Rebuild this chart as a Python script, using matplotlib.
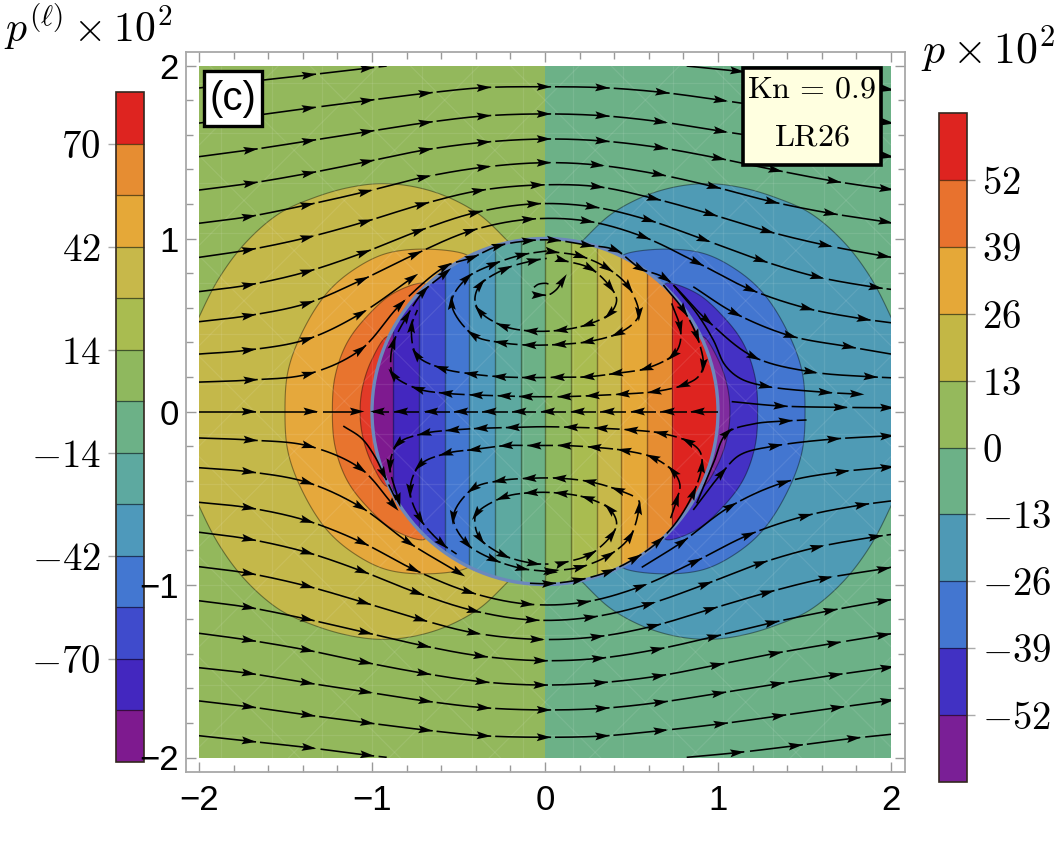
import numpy as np
import matplotlib
matplotlib.use("Agg")
import matplotlib.pyplot as plt
from matplotlib.colors import BoundaryNorm, ListedColormap
from matplotlib.cm import ScalarMappable
from matplotlib.collections import LineCollection, PolyCollection
from matplotlib.patches import Circle, Polygon, Rectangle
from matplotlib.ticker import MultipleLocator

plt.rcParams["font.family"] = ["Liberation Sans", "DejaVu Sans"]
plt.rcParams["mathtext.fontset"] = "cm"

W, H = 1064, 867

# ── Colour bands ──────────────────────────────────────────────────────
LEFT_COLORS = ["#7E1A8F", "#4327BF", "#3F4BCC", "#4377D1", "#4E99BB", "#5DA9A0", "#6CB187",
               "#8FB85E", "#A9BC50", "#C7B84A", "#E5A838", "#E68D32", "#DE2420"]
LEFT_LEVELS = [-98, -84, -70, -56, -42, -28, -14, 0, 14, 28, 42, 56, 70, 84]
LEFT_TICKS = [-70, -42, -14, 14, 42, 70]

RIGHT_COLORS = ["#7A1F96", "#4131C3", "#4376D0", "#4E99B5", "#6CB187",
                "#95B95C", "#C3B745", "#E5A838", "#E8722E", "#DE2420"]
RIGHT_LEVELS = [-65, -52, -39, -26, -13, 0, 13, 26, 39, 52, 65]
RIGHT_TICKS = [-52, -39, -26, -13, 0, 13, 26, 39, 52]

# ── Contours outside the cylinder (upper half, left side; others mirror) ──
OUT_1 = [(-.18, .95), (-.221, .991), (-.376, 1.136), (-.568, 1.242), (-.762, 1.30), (-.954, 1.317),
         (-1.146, 1.292), (-1.34, 1.234), (-1.532, 1.147), (-1.725, .982), (-1.879, .779), (-1.994, .558),
         (-2.1, .30)]
OUT_2 = [(-.42, .87), (-.453, .905), (-.665, .938), (-.915, .914), (-1.108, .818), (-1.262, .683),
         (-1.397, .471), (-1.484, .24), (-1.503, 0)]
OUT_3 = [(-.67, .71), (-.703, .741), (-.877, .683), (-1.031, .548), (-1.146, .394), (-1.214, .20), (-1.229, 0)]
OUT_4 = [(-.88, .42), (-.915, .432), (-1.002, .298), (-1.054, .144), (-1.069, 0)]
LEFT_OUT_COLORS = ["#C4B84A", "#E5A83C", "#E8742E", "#E23A28"]
RIGHT_OUT_COLORS = ["#4F9BB5", "#4376D0", "#4431C4", "#7F2B9E"]
OUT_BACK_LEFT = "#93B85C"
OUT_BACK_RIGHT = "#6CB187"

# ── Strips inside the cylinder ────────────────────────────────────────
IN_EDGES = [-1.02, -.877, -.728, -.578, -.438, -.289, -.14, 0, .15, .30, .44, .59, .736, 1.02]

# ── Streamlines: (x, y) carries an arrow head, (x, y, 0) only shapes the line ──
UPPER = [
    [(-2, 1.87, 0), (-1.628, 1.916, 0), (-1.368, 1.945), (-1.031, 1.984), (-.915, 1.997, 0)],
    [(.819, 1.997, 0), (1.108, 1.968), (1.45, 1.93, 0), (1.78, 1.89, 0), (1.975, 1.864), (2, 1.86, 0)],
    [(-2, 1.667, 0), (-1.628, 1.718, 0), (-1.368, 1.753), (-1.031, 1.797), (-.694, 1.839), (-.357, 1.872),
     (-.01, 1.877), (.328, 1.872), (.675, 1.845), (1.012, 1.80), (1.36, 1.75, 0), (1.7, 1.70, 0),
     (1.975, 1.671), (2, 1.667, 0)],
    [(-2, 1.473, 0), (-1.705, 1.512), (-1.368, 1.564), (-1.031, 1.617), (-.694, 1.669), (-.357, 1.708),
     (-.01, 1.72), (.328, 1.71), (.665, 1.675), (1.012, 1.621), (1.36, 1.57, 0), (1.7, 1.52, 0),
     (1.975, 1.477), (2, 1.473, 0)],
    [(-2, 1.28, 0), (-1.705, 1.319), (-1.368, 1.377), (-1.031, 1.444), (-.694, 1.512), (-.357, 1.556),
     (-.01, 1.575), (.328, 1.564), (.665, 1.525), (1.002, 1.464), (1.329, 1.396), (1.667, 1.332),
     (1.97, 1.287), (2, 1.284, 0)],
    [(-2, 1.088, 0), (-1.715, 1.126), (-1.377, 1.194), (-1.04, 1.27), (-.703, 1.354), (-.357, 1.412),
     (-.01, 1.438), (.299, 1.425), (.655, 1.371), (.973, 1.30), (1.31, 1.213), (1.647, 1.146),
     (1.965, 1.097), (2, 1.09, 0)],
    [(-2, .891, 0), (-1.715, .934), (-1.377, 1.005), (-1.04, 1.097), (-.713, 1.197), (-.386, 1.276),
     (-.048, 1.309), (.299, 1.30), (.626, 1.232), (.954, 1.142), (1.282, 1.043), (1.618, .962),
     (1.955, .899), (2, .892, 0)],
    [(-2, .693, 0), (-1.715, .731), (-1.377, .808), (-1.05, .918), (-.732, 1.043), (-.405, 1.149),
     (-.068, 1.2), (.27, 1.184), (.597, 1.107), (.915, .995), (1.243, .876), (1.57, .779),
     (1.908, .718), (2, .706, 0)],
    [(-2, .519, 0), (-1.715, .554), (-1.377, .625), (-1.06, .76), (-.751, .909), (-.434, 1.043),
     (-.097, 1.111), (.241, 1.101), (.568, 1.01), (.877, .862), (1.185, .706), (1.512, .597),
     (1.84, .535), (2, .513, 0)],
    [(-2, .332, 0), (-1.715, .355), (-1.377, .417), (-1.069, .564), (-.771, .77)],
    [(.857, .721, 0), (1.098, .568), (1.416, .438), (1.753, .375), (2, .332, 0)],
    [(-2, .17, 0), (-1.705, .182), (-1.368, .217), (-1.069, .355), (-.838, .616), (-.578, .837),
     (-.424, .889), (-.27, .957), (-.097, .987), (.048, .991), (.241, .962), (.405, .934), (.549, .828),
     (.694, .77), (.935, .529), (1.204, .317), (1.532, .23), (1.879, .201), (2, .195, 0)],
    [(.742, .731, 0), (.877, .568, 0), (.973, .413, 0), (1.04, .269, 0), (1.127, .192, 0), (1.272, .147),
     (1.618, .111), (1.80, .101)],
    [(-2, 0, 0), (-1.715, 0), (-1.358, 0), (-1.09, 0)],
    [(1.079, .057, 0), (1.358, .032), (1.705, .024), (1.975, .022), (2, .022, 0)],
]
LOWER = [
    [(-2, -.153, 0), (-1.705, -.165), (-1.368, -.199), (-1.069, -.328), (-.877, -.54)],
    [(-2, -.325, 0), (-1.715, -.348), (-1.377, -.409), (-1.069, -.55), (-.79, -.756), (-.501, -.93)],
    [(-2, -.525, 0), (-1.715, -.556), (-1.377, -.631), (-1.06, -.756), (-.761, -.912), (-.443, -1.042),
     (-.106, -1.113), (.221, -1.103), (.549, -1.013), (.867, -.868), (1.175, -.714), (1.503, -.604),
     (1.83, -.54), (2, -.517, 0)],
    [(-2, -.698, 0), (-1.715, -.737), (-1.377, -.814), (-1.06, -.922), (-.742, -1.047), (-.414, -1.151),
     (-.077, -1.205), (.26, -1.19), (.597, -1.114), (.925, -.999), (1.243, -.878), (1.57, -.785),
     (1.908, -.724), (2, -.711, 0)],
    [(-2, -.897, 0), (-1.715, -.935), (-1.377, -1.009), (-1.05, -1.103), (-.723, -1.201), (-.414, -1.279),
     (-.048, -1.317), (.299, -1.302), (.626, -1.24), (.954, -1.143), (1.282, -1.047), (1.618, -.964),
     (1.955, -.91), (2, -.9, 0)],
    [(-2, -1.094, 0), (-1.715, -1.132), (-1.377, -1.2), (-1.04, -1.277), (-.703, -1.354), (-.376, -1.413),
     (-.029, -1.44), (.308, -1.427), (.646, -1.375), (.973, -1.302), (1.31, -1.221), (1.647, -1.151),
     (1.955, -1.095), (2, -1.088, 0)],
    [(-2, -1.282, 0), (-1.715, -1.321), (-1.377, -1.379), (-1.04, -1.45), (-.703, -1.513), (-.366, -1.562),
     (-.029, -1.581), (.318, -1.568), (.655, -1.529), (.992, -1.465), (1.329, -1.398), (1.667, -1.34),
     (1.955, -1.292), (2, -1.285, 0)],
    [(-2, -1.481, 0), (-1.715, -1.513), (-1.377, -1.568), (-1.04, -1.62), (-.694, -1.673), (-.357, -1.712),
     (-.01, -1.725), (.328, -1.716), (.665, -1.681), (1.002, -1.629), (1.339, -1.575), (1.676, -1.523),
     (1.975, -1.481), (2, -1.477, 0)],
    [(-2, -1.673, 0), (-1.715, -1.706), (-1.374, -1.754), (-1.031, -1.799), (-.694, -1.841), (-.357, -1.874),
     (-.01, -1.883), (.328, -1.876), (.665, -1.845), (1.012, -1.806), (1.349, -1.76), (1.686, -1.712),
     (1.975, -1.673), (2, -1.669, 0)],
    [(-2, -1.874, 0), (-1.715, -1.905), (-1.368, -1.943), (-1.031, -1.986), (-.915, -1.999, 0)],
    [(.819, -1.999, 0), (1.108, -1.972), (1.445, -1.932), (1.782, -1.889), (2, -1.866, 0)],
    [(.559, -.901, 0), (.79, -.756), (1.069, -.55), (1.378, -.411), (1.715, -.348), (1.975, -.323), (2, -.32, 0)],
    [(.857, -.569, 0), (1.021, -.357), (1.127, -.251, 0), (1.329, -.199), (1.667, -.159), (1.975, -.142), (2, -.14, 0)],
    [(.877, -.531, 0), (.973, -.3, 0), (1.05, -.126), (1.204, -.072, 0), (1.387, -.055), (1.512, -.049, 0)],
]
INNER = [
    [(1.002, 0, 0), (.886, 0), (.713, 0), (.54, 0), (.366, 0), (.193, 0), (.02, 0), (-.145, 0), (-.318, 0),
     (-.482, 0), (-.655, 0), (-.829, 0), (-.964, 0), (-.992, 0, 0)],
    # upper half
    [(.684, .731, 0), (.80, .587), (.877, .438), (.915, .269), (.886, .201, 0), (.80, .153), (.636, .115),
     (.453, .101), (.279, .092), (.116, .086), (-.106, .086), (-.231, .09), (-.395, .095), (-.569, .105),
     (-.732, .13), (-.877, .211), (-.892, .278, 0), (-.877, .394), (-.80, .548), (-.703, .693), (-.578, .799)],
    [(.732, .625, 0), (.78, .49), (.78, .394, 0), (.742, .327), (.588, .25), (.414, .221), (.25, .201),
     (.077, .198), (-.087, .196), (-.26, .201), (-.424, .217), (-.597, .25), (-.742, .327), (-.771, .49),
     (-.738, .587, 0)],
    [(.039, .924), (.202, .899), (.356, .831), (.482, .722), (.543, .567), (.52, .519, 0), (.424, .452),
     (.25, .404), (.087, .388), (-.087, .384), (-.251, .398), (-.414, .442), (-.54, .625), (-.453, .77),
     (-.299, .851), (-.135, .905), (.01, .928, 0)],
    [(.096, .876), (.26, .828), (.376, .722), (.414, .645, 0), (.376, .567), (.25, .504), (.096, .471),
     (-.077, .465), (-.241, .494), (-.376, .577), (-.405, .645, 0), (-.376, .731), (-.231, .824),
     (-.068, .872), (.01, .885, 0)],
    [(-.064, .718, 0), (-.039, .735, 0), (.004, .741, 0), (.02, .737, 0)],
    [(-.04, .673), (-.01, .673, 0), (.019, .673, 0), (.067, .706, 0), (.10, .755)],
    # lower half
    [(-.087, -.993, 0), (.02, -.995), (.193, -.974), (.366, -.926), (.52, -.849), (.655, -.752), (.761, -.637, 0),
     (.857, -.473), (.906, -.319), (.896, -.232, 0), (.828, -.174), (.674, -.126), (.501, -.107), (.327, -.097),
     (.154, -.091), (-.01, -.088, 0), (-.183, -.092), (-.366, -.097), (-.53, -.107), (-.694, -.126),
     (-.848, -.184), (-.896, -.309), (-.848, -.508)],
    [(.726, -.617, 0), (.761, -.512), (.78, -.425, 0), (.742, -.348), (.626, -.267), (.462, -.226),
     (.289, -.207), (.116, -.197), (-.058, -.197), (-.222, -.197), (-.405, -.219), (-.569, -.242),
     (-.723, -.309), (-.78, -.454), (-.723, -.618), (-.597, -.762), (-.511, -.824, 0)],
    [(.039, -.922), (.202, -.9), (.366, -.833), (.491, -.724), (.543, -.56), (.54, -.512, 0), (.424, -.454),
     (.26, -.406), (.087, -.386), (-.087, -.386), (-.26, -.4), (-.414, -.444), (-.53, -.608), (-.453, -.762),
     (-.299, -.855), (-.135, -.907), (.029, -.926)],
    [(.096, -.878), (.26, -.826), (.385, -.714), (.414, -.646, 0), (.376, -.566), (.25, -.502), (.096, -.473),
     (-.077, -.469), (-.241, -.496), (-.395, -.589), (-.405, -.647, 0), (-.376, -.733), (-.241, -.83),
     (-.068, -.878), (.02, -.882, 0)],
    [(-1.166, -.084, 0), (-1.06, -.155, 0), (-.983, -.261, 0), (-.935, -.358), (-.86, -.512, 0)],
]


def box(left, top, right, bottom):
    return [left / W, 1 - bottom / H, (right - left) / W, (bottom - top) / H]


def smooth(pts, n=30):
    # centripetal Catmull-Rom through the read points
    P = np.asarray(pts, dtype=float)
    P = np.vstack([2 * P[0] - P[1], P, 2 * P[-1] - P[-2]])
    out = []
    for i in range(len(P) - 3):
        p0, p1, p2, p3 = P[i:i + 4]
        t0 = 0.0
        t1 = t0 + max(np.linalg.norm(p1 - p0), 1e-6) ** .5
        t2 = t1 + max(np.linalg.norm(p2 - p1), 1e-6) ** .5
        t3 = t2 + max(np.linalg.norm(p3 - p2), 1e-6) ** .5
        t = np.linspace(t1, t2, n, endpoint=False)[:, None]
        a1 = (t1 - t) / (t1 - t0) * p0 + (t - t0) / (t1 - t0) * p1
        a2 = (t2 - t) / (t2 - t1) * p1 + (t - t1) / (t2 - t1) * p2
        a3 = (t3 - t) / (t3 - t2) * p2 + (t - t2) / (t3 - t2) * p3
        b1 = (t2 - t) / (t2 - t0) * a1 + (t - t0) / (t2 - t0) * a2
        b2 = (t3 - t) / (t3 - t1) * a2 + (t - t1) / (t3 - t1) * a3
        out.append((t2 - t) / (t2 - t1) * b1 + (t - t1) / (t2 - t1) * b2)
    out.append(P[-2][None, :])
    return np.vstack(out)


fig = plt.figure(figsize=(W / 100, H / 100), dpi=100)
ax = fig.add_axes(box(186, 52, 905, 772), zorder=5)
ax.set_xlim((186 - 545) / 173, (905 - 545) / 173)
ax.set_ylim((411.5 - 772) / 173, (411.5 - 52) / 173)

field_clip = Rectangle((-2, -2), 4, 4, transform=ax.transData)

# ── Field outside ─────────────────────────────────────────────────────
ax.add_patch(Rectangle((-2, -2), 2, 4, fc=OUT_BACK_LEFT, ec="none", zorder=1))
ax.add_patch(Rectangle((0, -2), 2, 4, fc=OUT_BACK_RIGHT, ec="none", zorder=1))

for i, outline in enumerate([OUT_1, OUT_2, OUT_3, OUT_4]):
    # smooth the closed outline in one go so it stays round across the axis
    lower = [(x, -y) for x, y in outline[::-1] if y != 0]
    whole = smooth(list(outline) + lower)
    for sign, color in ((1, LEFT_OUT_COLORS[i]), (-1, RIGHT_OUT_COLORS[i])):
        patch = Polygon(whole * [sign, 1], closed=True, fc=color,
                        ec=(0, 0, 0, .4), lw=.8, zorder=2 + i * .1)
        ax.add_patch(patch)
        patch.set_clip_path(field_clip)

# ── Field inside ──────────────────────────────────────────────────────
mesh = ax.pcolormesh(IN_EDGES, [-1.02, 1.02], np.arange(len(LEFT_COLORS))[None, :],
                     cmap=ListedColormap(LEFT_COLORS), vmin=-.5, vmax=len(LEFT_COLORS) - .5, zorder=3)
disc = Circle((0, 0), 1.0, transform=ax.transData)
mesh.set_clip_path(disc)
strip_lines = ax.vlines(IN_EDGES[1:-1], -1, 1, colors=[(0, 0, 0, .38)], lw=1.0, zorder=3.1)
strip_lines.set_clip_path(disc)

# faint mesh seams of the contour plot
seams = []
for c in np.arange(-1.87, 2.01, .29):
    seams.append([(c, -2), (c, 2)])
    seams.append([(-2, c), (2, c)])
for c in np.arange(-4, 4.01, .58):
    seams.append([(-2, -2 + c), (2, 2 + c)])
    seams.append([(-2, 2 + c), (2, -2 + c)])
seam_lines = LineCollection(seams, colors=[(1, 1, 1, .09)], lw=.9, zorder=3.2)
ax.add_collection(seam_lines)
seam_lines.set_clip_path(field_clip)

ax.add_patch(Circle((0, 0), 1.0, fc="none", ec="#6C88BC", lw=2.4, zorder=3.3))

# ── Streamlines ───────────────────────────────────────────────────────
HEAD_LEN = .084
HEAD_W = .023
GAP = .02
heads = []
for line in UPPER + LOWER + INNER:
    xy = [p[:2] for p in line]
    dense = smooth(xy)
    drawn = dense.copy()
    for k, p in enumerate(line):
        if len(p) == 3:
            continue
        idx = min(k * 30, len(dense) - 2)
        u = dense[idx + 1] - dense[max(idx - 1, 0)]
        u = u / np.linalg.norm(u)
        nrm = np.array([-u[1], u[0]])
        c = np.array(p)
        tip = c + u * HEAD_LEN * .55
        back = c - u * HEAD_LEN * .45
        heads.append([tip, back + nrm * HEAD_W, c - u * HEAD_LEN * .28, back - nrm * HEAD_W])
        ahead = (dense - tip) @ u
        near = np.abs((dense - tip) @ nrm) < .05
        drawn[(ahead > 0) & (ahead < GAP) & near] = np.nan
    trace, = ax.plot(drawn[:, 0], drawn[:, 1], color="black", lw=1.15, zorder=4, solid_capstyle="butt")
    trace.set_clip_path(field_clip)
head_patches = PolyCollection(heads, facecolors="black", edgecolors="none", zorder=4.1)
ax.add_collection(head_patches)
head_patches.set_clip_path(field_clip)

# ── Frame and ticks ───────────────────────────────────────────────────
for spine in ax.spines.values():
    spine.set_color("#a8a8a8")
    spine.set_linewidth(1.3)
ax.xaxis.set_major_locator(MultipleLocator(1))
ax.yaxis.set_major_locator(MultipleLocator(1))
ax.xaxis.set_minor_locator(MultipleLocator(.2))
ax.yaxis.set_minor_locator(MultipleLocator(.2))
ax.tick_params(which="major", direction="in", top=True, right=True, length=7, width=1,
               color="#999999", labelsize=25)
ax.tick_params(which="minor", direction="in", top=True, right=True, length=5, width=1, color="#999999")
ax.tick_params(axis="x", which="major", pad=9)
ax.tick_params(axis="y", which="major", pad=5)

# ── Colour bars ───────────────────────────────────────────────────────
cax_left = fig.add_axes(box(116, 92, 144, 762), zorder=2)
cb_left = fig.colorbar(ScalarMappable(BoundaryNorm(LEFT_LEVELS, len(LEFT_COLORS)), ListedColormap(LEFT_COLORS)),
                       cax=cax_left, drawedges=True, ticks=LEFT_TICKS, spacing="proportional")
cax_left.yaxis.set_ticks_position("left")
cax_left.set_yticklabels([f"${v}$" for v in LEFT_TICKS])

cax_right = fig.add_axes(box(939, 113, 967, 782), zorder=2)
cb_right = fig.colorbar(ScalarMappable(BoundaryNorm(RIGHT_LEVELS, len(RIGHT_COLORS)), ListedColormap(RIGHT_COLORS)),
                        cax=cax_right, drawedges=True, ticks=RIGHT_TICKS, spacing="proportional")
cax_right.set_yticklabels([f"${v}$" for v in RIGHT_TICKS])

for cb, cax in ((cb_left, cax_left), (cb_right, cax_right)):
    cb.minorticks_off()
    cb.outline.set_edgecolor("#33281f")
    cb.outline.set_linewidth(1.2)
    cb.dividers.set_color((0, 0, 0, .55))
    cb.dividers.set_linewidth(.9)
    cax.tick_params(length=6, width=1, color="#aaaaaa", labelsize=28, pad=5)

# ── Text and boxes ────────────────────────────────────────────────────
fig.text(4 / W, 1 - 42 / H, r"$p^{(\ell)}\times 10^2$", fontsize=30, va="baseline", ha="left")
fig.text(921 / W, 1 - 64 / H, r"$p\times 10^2$", fontsize=31.5, va="baseline", ha="left")

fig.add_artist(Rectangle((203.5 / W, 1 - 126 / H), 58 / W, 55 / H, transform=fig.transFigure,
                         fc="white", ec="black", lw=2.4, zorder=10))
fig.text(232.5 / W, 1 - 99 / H, "(c)", fontsize=29, ha="center", va="center", zorder=11)

fig.add_artist(Rectangle((742.5 / W, 1 - 164.5 / H), 138 / W, 97 / H, transform=fig.transFigure,
                         fc="#FFFFE0", ec="black", lw=2.6, zorder=10))
fig.text(812 / W, 1 - 90 / H, r"$\mathrm{Kn}\,=\,0.9$", fontsize=23, ha="center", va="center", zorder=11)
fig.text(812 / W, 1 - 138 / H, r"$\mathrm{LR26}$", fontsize=23, ha="center", va="center", zorder=11)

fig.savefig("out.png", dpi=100)
